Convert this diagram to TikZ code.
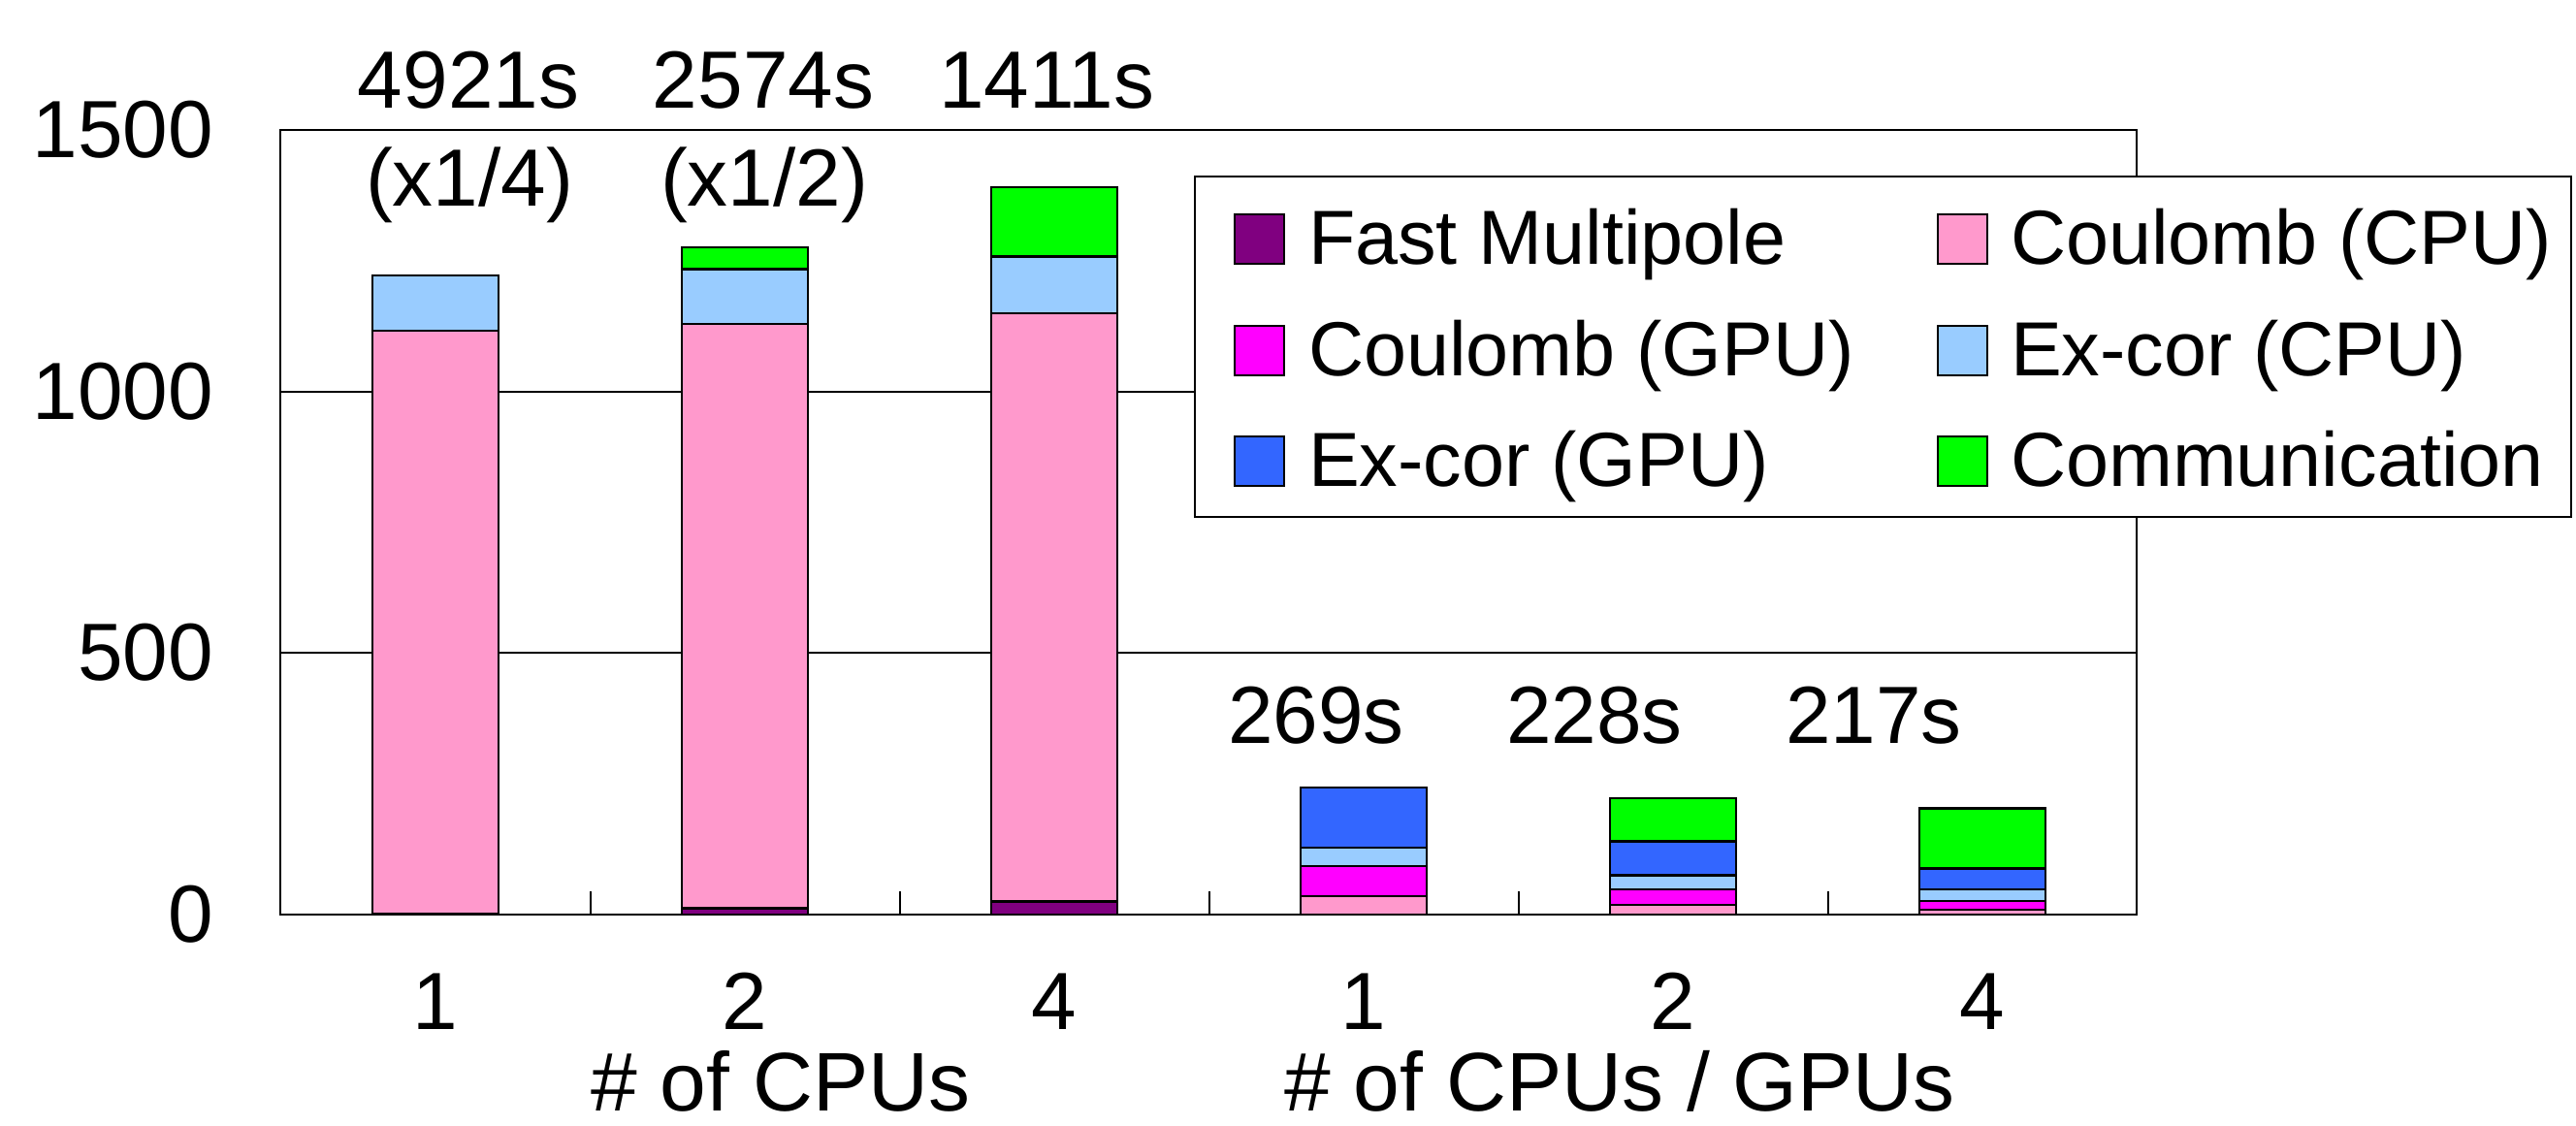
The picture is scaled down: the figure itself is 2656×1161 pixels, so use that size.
\documentclass[tikz,border=0pt]{standalone}
\usepackage{fontspec}
\setmainfont{Liberation Sans}
\definecolor{cFMM}{HTML}{800080}
\definecolor{cCouCPU}{HTML}{FF99CC}
\definecolor{cCouGPU}{HTML}{FF00FF}
\definecolor{cExCPU}{HTML}{99CCFF}
\definecolor{cExGPU}{HTML}{3366FF}
\definecolor{cComm}{HTML}{00FF00}
\newcommand{\barseg}[4]{\filldraw[segstyle, fill=#4] ({#1-65},{943-0.5393*#2}) rectangle ({#1+65},{943-0.5393*#3});}
\tikzset{
  segstyle/.style={draw=black, line width=0.6pt},
  lbl/.style={inner sep=0pt, outer sep=0pt, font=\fontsize{23.8}{28}\selectfont},
  leglbl/.style={inner sep=0pt, outer sep=0pt, font=\fontsize{22.5}{27}\selectfont},
  titlelbl/.style={inner sep=0pt, outer sep=0pt, font=\fontsize{24.4}{29}\selectfont},
  swatch/.style={draw=black, line width=0.6pt, minimum width=0.51cm, minimum height=0.51cm, inner sep=0pt, anchor=south west},
  gridstyle/.style={draw=black, line width=0.5pt},
}
\begin{document}
\begin{tikzpicture}[x=0.01cm, y=-0.01cm]
\useasboundingbox (0,0) rectangle (2656,1161);
% grid lines
\draw[gridstyle] (289,673) -- (2203,673);
\draw[gridstyle] (289,404) -- (2203,404);
% bars: CPU only
\barseg{449}{0}{2}{cFMM}
\barseg{449}{2}{1117}{cCouCPU}
\barseg{449}{1117}{1222}{cExCPU}
\barseg{768}{0}{12}{cFMM}
\barseg{768}{12}{1130}{cCouCPU}
\barseg{768}{1130}{1234}{cExCPU}
\barseg{768}{1234}{1276}{cComm}
\barseg{1087}{0}{25}{cFMM}
\barseg{1087}{25}{1149}{cCouCPU}
\barseg{1087}{1149}{1258}{cExCPU}
\barseg{1087}{1258}{1390}{cComm}
% bars: CPU/GPU
\barseg{1406}{0}{35}{cCouCPU}
\barseg{1406}{35}{92}{cCouGPU}
\barseg{1406}{92}{128}{cExCPU}
\barseg{1406}{128}{243}{cExGPU}
\barseg{1725}{0}{19}{cCouCPU}
\barseg{1725}{19}{47.5}{cCouGPU}
\barseg{1725}{47.5}{75}{cExCPU}
\barseg{1725}{75}{140}{cExGPU}
\barseg{1725}{140}{223}{cComm}
\barseg{2044}{0}{10}{cCouCPU}
\barseg{2044}{10}{26}{cCouGPU}
\barseg{2044}{26}{47.5}{cExCPU}
\barseg{2044}{47.5}{88}{cExGPU}
\barseg{2044}{88}{203}{cComm}
% frame
\draw[line width=0.8pt] (289,134) rectangle (2203,943);
% category ticks
\foreach \tx in {609,928,1247,1566,1885} \draw[line width=0.5pt] (\tx,943) -- (\tx,919);
% y tick labels
\node[lbl, anchor=east] (y1500) at (220,134) {1500};
\node[lbl, anchor=east] (y1000) at (220,404) {1000};
\node[lbl, anchor=east] (y500) at (220,673) {500};
\node[lbl, anchor=east] (y0) at (220,943) {0};
% x tick labels
\node[lbl, anchor=base] (x1) at (449,1061) {1};
\node[lbl, anchor=base] (x2) at (768,1061) {2};
\node[lbl, anchor=base] (x3) at (1087,1061) {4};
\node[lbl, anchor=base] (x4) at (1406,1061) {1};
\node[lbl, anchor=base] (x5) at (1725,1061) {2};
\node[lbl, anchor=base] (x6) at (2044,1061) {4};
\node[titlelbl, anchor=base] (xcpu) at (805,1146) {\# of CPUs};
\node[titlelbl, anchor=base] (xgpu) at (1670,1146) {\# of CPUs / GPUs};
% totals
\node[lbl, anchor=base] (t1) at (483,112) {4921s};
\node[lbl, anchor=base] (t1b) at (484,213) {(x1/4)};
\node[lbl, anchor=base] (t2) at (787,112) {2574s};
\node[lbl, anchor=base] (t2b) at (788,213) {(x1/2)};
\node[lbl, anchor=base] (t3) at (1079,112) {1411s};
\node[lbl, anchor=base] (t4) at (1357,767) {269s};
\node[lbl, anchor=base] (t5) at (1644,767) {228s};
\node[lbl, anchor=base] (t6) at (1932,767) {217s};
% legend
\filldraw[fill=white, draw=black, line width=0.6pt] (1232,182) rectangle (2651,533);
\node[swatch, fill=cFMM] (s1) at (1272,273) {};
\node[leglbl, anchor=base west] (l1) at (1349,273) {Fast Multipole};
\node[swatch, fill=cCouGPU] (s2) at (1272,388) {};
\node[leglbl, anchor=base west] (l2) at (1349,388) {Coulomb (GPU)};
\node[swatch, fill=cExGPU] (s3) at (1272,502) {};
\node[leglbl, anchor=base west] (l3) at (1349,502) {Ex-cor (GPU)};
\node[swatch, fill=cCouCPU] (s4) at (1997,273) {};
\node[leglbl, anchor=base west] (l4) at (2073,273) {Coulomb (CPU)};
\node[swatch, fill=cExCPU] (s5) at (1997,388) {};
\node[leglbl, anchor=base west] (l5) at (2073,388) {Ex-cor (CPU)};
\node[swatch, fill=cComm] (s6) at (1997,502) {};
\node[leglbl, anchor=base west] (l6) at (2073,502) {Communication};
\end{tikzpicture}
\end{document}
